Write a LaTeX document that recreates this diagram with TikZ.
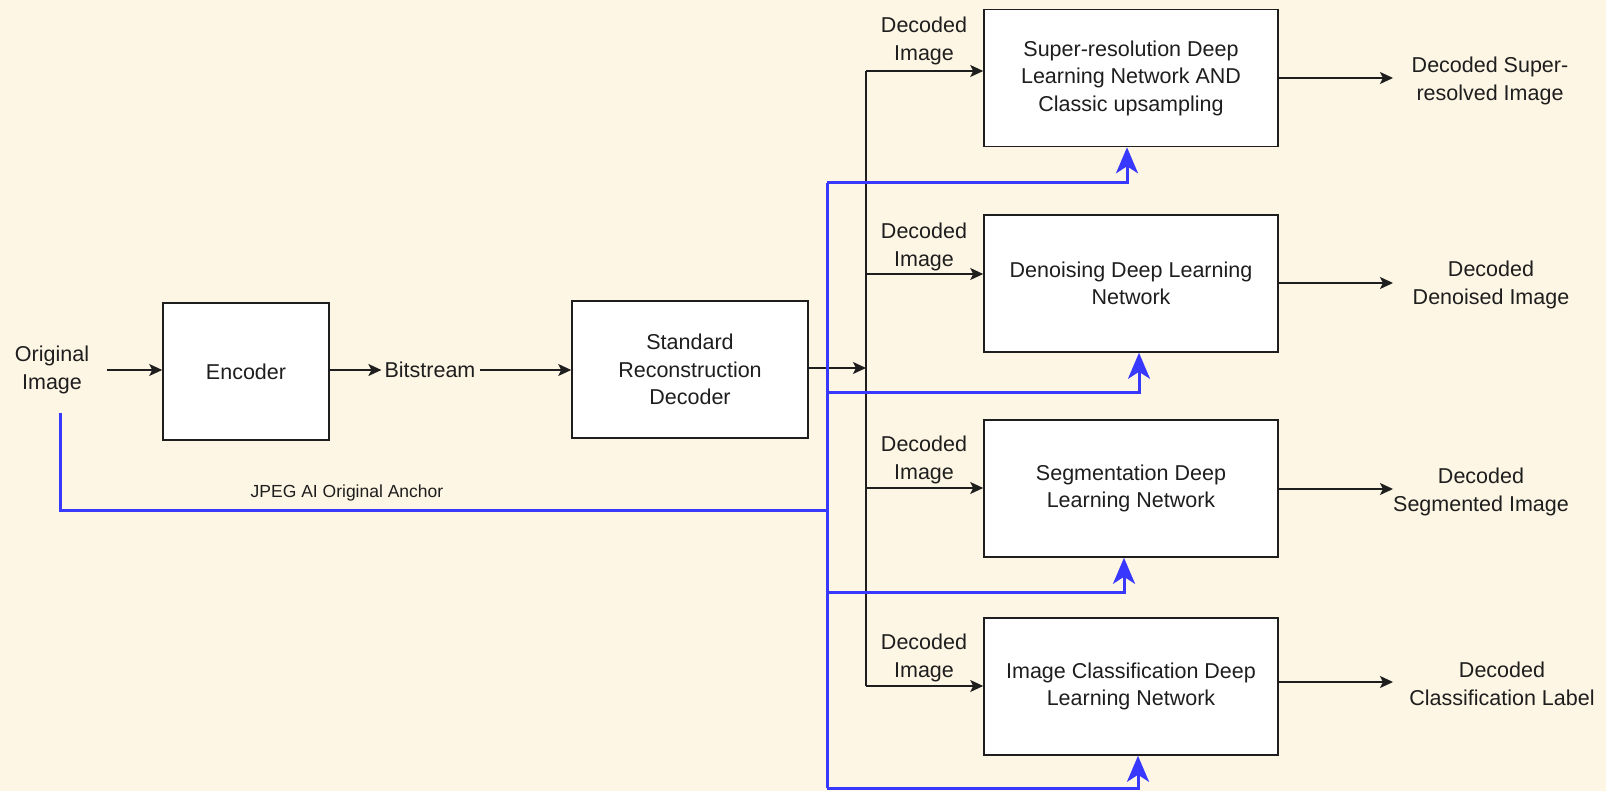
\documentclass[tikz,border=0pt]{standalone}
\usepackage{fontspec}
\setmainfont{Liberation Sans}
\usetikzlibrary{arrows.meta,calc}
\definecolor{bgcream}{HTML}{FEF6E4}
\definecolor{anchorblue}{HTML}{3838FF}
\definecolor{inkgray}{HTML}{1E1E1E}
\begin{document}
\begin{tikzpicture}[x=1pt,y=-1pt,
  every node/.style={font=\fontsize{21.5}{27.5}\selectfont, text=inkgray, align=center, inner sep=0pt},
  block/.style={draw=inkgray, line width=1.6pt, fill=white, minimum width=#1, minimum height=137pt},
  flow/.style={draw=inkgray, line width=1.4pt, -{Stealth[length=13pt,width=12pt,inset=3pt]}},
  flowline/.style={draw=inkgray, line width=1.4pt},
  anchorline/.style={draw=anchorblue, line width=3pt},
  anchorarrow/.style={draw=anchorblue, line width=3pt, -{Stealth[length=26pt,width=22pt,inset=7pt]}},
  small/.style={font=\fontsize{17.5}{21}\selectfont}]
  \useasboundingbox (0,0) rectangle (1606,791);
  \fill[bgcream] (0,0) rectangle (1606,791);

  % main coding chain
  \node (orig) at (52,370) {Original\\Image};
  \node[block=166pt] (enc) at (246,371.5) {Encoder};
  \node (bits) at (430,370) {Bitstream};
  \node[block=236pt] (srd) at (690,369.5) {Standard\\Reconstruction\\Decoder};

  % task networks
  \node[block=294pt] (sr) at (1131,78) {Super-resolution Deep\\Learning Network AND\\Classic upsampling};
  \node[block=294pt] (dn) at (1131,283.5) {Denoising Deep Learning\\Network};
  \node[block=294pt] (sg) at (1131,488.5) {Segmentation Deep\\Learning Network};
  \node[block=294pt] (ic) at (1131,686.5) {Image Classification Deep\\Learning Network};

  % outputs
  \node (osr) at (1490,81) {Decoded Super-\\resolved Image};
  \node (odn) at (1491,285) {Decoded\\Denoised Image};
  \node (osg) at (1481,492) {Decoded\\Segmented Image};
  \node (oic) at (1502,684) {Decoded\\Classification Label};

  % decoded image labels
  \node (lsr) at (924,41) {Decoded\\Image};
  \node (ldn) at (924,247) {Decoded\\Image};
  \node (lsg) at (924,460) {Decoded\\Image};
  \node (lic) at (924,658) {Decoded\\Image};

  % chain arrows
  \coordinate (origout) at (107,370);
  \coordinate (bitsout) at (480,370);
  \draw[flow] (origout) -- (enc.west |- origout);
  \draw[flow, shorten >=3pt] (enc.east |- bits) -- (bits.west);
  \draw[flow] (bitsout) -- (srd.west |- bitsout);

  % distribution of the decoded image
  \coordinate (split) at (866,368);
  \coordinate (tsr) at (866,71);
  \coordinate (tdn) at (866,274);
  \coordinate (tsg) at (866,488);
  \coordinate (tic) at (866,686);
  \draw[flow] (srd.east |- split) -- (split);
  \draw[flowline] (tsr) -- (tic);
  \draw[flow] (tsr) -- (sr.west |- tsr);
  \draw[flow] (tdn) -- (dn.west |- tdn);
  \draw[flow] (tsg) -- (sg.west |- tsg);
  \draw[flow] (tic) -- (ic.west |- tic);

  % outputs arrows
  \coordinate (esr) at (1393,78);
  \coordinate (edn) at (1393,283);
  \coordinate (esg) at (1393,489);
  \coordinate (eic) at (1393,682);
  \draw[flow] (sr.east |- esr) -- (esr);
  \draw[flow] (dn.east |- edn) -- (edn);
  \draw[flow] (sg.east |- esg) -- (esg);
  \draw[flow] (ic.east |- eic) -- (eic);

  % original anchor path
  \coordinate (astart) at (60,413);
  \coordinate (abend) at (60,510);
  \coordinate (ajoin) at (827,510);
  \coordinate (asr) at (827,183);
  \coordinate (adn) at (827,392);
  \coordinate (asg) at (827,592);
  \coordinate (aic) at (827,788);
  \draw[anchorline] (astart) -- (abend) -- (ajoin);
  \draw[anchorline] (asr) -- (aic);
  \draw[anchorarrow] (asr) -- (1127,183) -- (1127,0 |- sr.south);
  \draw[anchorarrow] (adn) -- (1139,392) -- (1139,0 |- dn.south);
  \draw[anchorarrow] (asg) -- (1124,592) -- (1124,0 |- sg.south);
  \draw[anchorarrow] (aic) -- (1138,788) -- (1138,0 |- ic.south);
  \node[small] (alabel) at (347,493) {JPEG AI Original Anchor};
\end{tikzpicture}
\end{document}
